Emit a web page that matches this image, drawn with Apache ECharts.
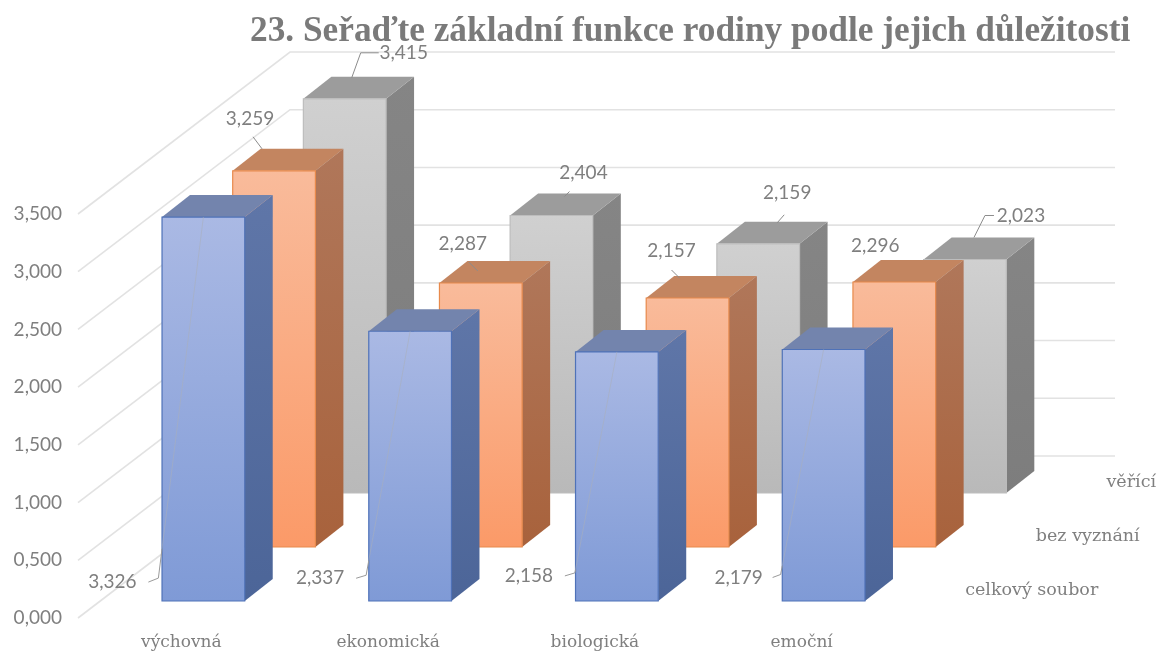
<!DOCTYPE html>
<html><head><meta charset="utf-8">
<script src="https://cdn.jsdelivr.net/npm/echarts@6/dist/echarts.min.js"></script>
<style>html,body{margin:0;padding:0;background:#fff}#c{width:1158px;height:651px}</style>
</head><body><div id="c"></div>
<script>
const titleText = '23. Seřaďte základní funkce rodiny podle jejich důležitosti';
const categories = ['výchovná', 'ekonomická', 'biologická', 'emoční'];
const seriesNames = ['celkový soubor', 'bez vyznání', 'věřící'];
const celkovySoubor = [3.326, 2.337, 2.158, 2.179];
const bezVyznani = [3.259, 2.287, 2.157, 2.296];
const verici = [3.415, 2.404, 2.159, 2.023];
const gridTicks = [0, 0.5, 1, 1.5, 2, 2.5, 3, 3.5];

const values = [celkovySoubor, bezVyznani, verici];

// 3D look (pixels, not data)
const DEPTH_STEP = [70.67, -54], DEPTH_BASE = [22, -17], SIDE = [28, -22], WALL = [212, -162];
const WALL_RIGHT = 1115;
const looks = [
  {front:['#aab9e4','#7f9ad6'], side:['#5f76a8','#4c6598'], top:'#7384ad', edge:'#4f72b8'},
  {front:['#f9bb9b','#fb9a68'], side:['#b0775a','#a8623c'], top:'#c38560', edge:'#e88a4c'},
  {front:['#d0d0d0','#b9b9b9'], side:['#858585','#7d7d7d'], top:'#9c9c9c', edge:'#bdbdbd'}
];
// label position relative to the bar's top-front centre, leader points relative to the label
const labelLayout = [
  [{o:[-91,365], l:[[46,-4],[36,0]], a:1},{o:[-90,247], l:[[46,-3],[36,0]], a:1},{o:[-88,224], l:[[46,-3],[36,0]], a:1},{o:[-85,228], l:[[42,-3],[34,0]], a:1}],
  [{o:[-24,-52], l:[[3,18],[12,30]]},{o:[-18,-39], l:[[6,18],[15,27]]},{o:[-16,-47], l:[[0,19],[8,27]]},{o:[-19,-36], l:[]}],
  [{o:[59,-46], l:[[-25,0],[-43,0],[-52,25]]},{o:[32,-43], l:[[-14,19],[-19,24]]},{o:[29,-51], l:[[-3,22],[-10,30]]},{o:[56,-44], l:[[-27,0],[-36,0],[-47,22]]}]
];

const grad = c => new echarts.graphic.LinearGradient(0,0,0,1,[{offset:0,color:c[0]},{offset:1,color:c[1]}]);
const depthOf = s => [DEPTH_BASE[0]+s*DEPTH_STEP[0], DEPTH_BASE[1]+s*DEPTH_STEP[1]];

function barSeries(s){
  const d = depthOf(s), look = looks[s];
  return {
    type:'custom', name:seriesNames[s], coordinateSystem:'cartesian2d', z:3+(2-s), silent:true,
    encode:{x:0,y:1},
    data: values[s].map((v,i)=>[i,v]),
    renderItem(params, api){
      const top = api.coord([api.value(0), api.value(1)]);
      const base = api.coord([api.value(0), 0]);
      const w = api.size([1,0])[0]*0.4;
      const x0 = top[0]-w/2+d[0], x1 = top[0]+w/2+d[0], yt = top[1]+d[1], yb = base[1]+d[1];
      const sx = SIDE[0], sy = SIDE[1];
      return {type:'group', children:[
        {type:'polygon', shape:{points:[[x1,yt],[x1+sx,yt+sy],[x1+sx,yb+sy],[x1,yb]]},
         style:{fill:grad(look.side)}},
        {type:'polygon', shape:{points:[[x0,yt],[x0+sx,yt+sy],[x1+sx,yt+sy],[x1,yt]]},
         style:{fill:look.top}},
        {type:'polygon', shape:{points:[[x0,yt],[x1,yt],[x1,yb],[x0,yb]]},
         style:{fill:grad(look.front), stroke:look.edge, lineWidth:1.2}}
      ]};
    }
  };
}

const labelData = [];
values.forEach((arr,s)=>arr.forEach((v,i)=>labelData.push([i,v,s])));

const fmt = v => v.toFixed(3).replace('.',',');

const option = {
  animation:false,
  backgroundColor:'#fff',
  title:{text:titleText, left:245, top:9,
    textStyle:{fontFamily:'Liberation Serif', fontWeight:'bold', fontSize:35.3, color:'#7a7a7a'}},
  grid:{left:78, width:827, top:214, height:404, outerBoundsMode:'none'},
  xAxis:{type:'category', data:categories, boundaryGap:true,
    axisLine:{show:false}, axisTick:{show:false}, splitLine:{show:false},
    axisLabel:{margin:16, fontFamily:'DejaVu Serif', fontSize:17, color:'#7f7f7f', interval:0}},
  yAxis:{type:'value', min:0, max:3.5, interval:0.5,
    axisLine:{show:false}, axisTick:{show:false}, splitLine:{show:false},
    axisLabel:{margin:16, formatter:fmt, fontFamily:'Lato', fontSize:19, color:'#7f7f7f', padding:[0,0,5,0]}},
  series:[
    {type:'custom', coordinateSystem:'cartesian2d', z:1, silent:true, encode:{x:0,y:1},
     data:gridTicks.map(t=>[0,t]),
     renderItem(params, api){
       const y = api.coord([0, api.value(1)])[1], x = params.coordSys.x;
       return {type:'polyline',
         shape:{points:[[x,y],[x+WALL[0],y+WALL[1]],[WALL_RIGHT,y+WALL[1]]]},
         style:{fill:'none', stroke:'#e2e2e2', lineWidth:1.6}};
     }},
    barSeries(2), barSeries(1), barSeries(0),
    {type:'custom', coordinateSystem:'cartesian2d', z:10, silent:true, encode:{x:0,y:1},
     data:labelData,
     renderItem(params, api){
       const i = api.value(0), v = api.value(1), s = api.value(2);
       const p = api.coord([i,v]), d = depthOf(s), lay = labelLayout[s][i];
       const a = [p[0]+d[0], p[1]+d[1]];
       const lx = a[0]+lay.o[0], ly = a[1]+lay.o[1];
       const kids = [];
       const pts = lay.l.map(q=>[lx+q[0], ly+q[1]]);
       if (lay.a) {
         // faint part across the bar face, solid part once it leaves the bar
         const halfW = api.size([1,0])[0]*0.2, edge = a[0]-halfW;
         const t = (a[0]-edge)/(a[0]-pts[0][0]);
         const exit = [edge, a[1]+t*(pts[0][1]-a[1])];
         kids.push({type:'polyline', shape:{points:[a,exit]},
           style:{fill:'none', stroke:'rgba(170,175,185,0.55)', lineWidth:1}});
         kids.push({type:'polyline', shape:{points:[exit].concat(pts)},
           style:{fill:'none', stroke:'#9a9a9a', lineWidth:1}});
       } else if (pts.length) {
         kids.push({type:'polyline', shape:{points:pts},
           style:{fill:'none', stroke:'#8c8c8c', lineWidth:1}});
       }
       kids.push({type:'text', style:{text:fmt(v), x:lx, y:ly, textAlign:'center', textVerticalAlign:'middle',
         font:'19px Lato', fill:'#7f7f7f'}});
       return {type:'group', children:kids};
     }},
    {type:'custom', coordinateSystem:'cartesian2d', z:10, silent:true, encode:{x:0,y:1},
     data:seriesNames.map((n,s)=>[3,0,s]),
     renderItem(params, api){
       const s = api.value(2), p = api.coord([3,0]);
       return {type:'text', style:{text:seriesNames[s],
         x:p[0]+163.5+s*DEPTH_STEP[0], y:p[1]-28+s*DEPTH_STEP[1],
         textAlign:'left', textVerticalAlign:'middle', font:'17.5px "DejaVu Serif"', fill:'#7f7f7f'}};
     }}
  ]
};
echarts.init(document.getElementById('c'),null,{renderer:'canvas'}).setOption(option);
</script></body></html>
